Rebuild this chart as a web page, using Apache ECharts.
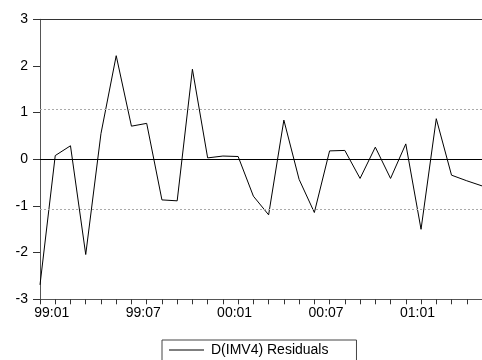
<!DOCTYPE html>
<html>
<head>
<meta charset="utf-8">
<script src="https://cdn.jsdelivr.net/npm/echarts@6/dist/echarts.min.js"></script>
<style>html,body{margin:0;padding:0;background:#fff}#c{width:482px;height:360px}</style>
</head>
<body>
<div id="c"></div>
<script>
const categories = ["98:12","99:01","99:02","99:03","99:04","99:05","99:06","99:07","99:08","99:09","99:10","99:11","99:12",
  "00:01","00:02","00:03","00:04","00:05","00:06","00:07","00:08","00:09","00:10","00:11","00:12",
  "01:01","01:02","01:03","01:04","01:05"];
const residuals = [-2.69,0.08,0.29,-2.04,0.55,2.22,0.71,0.77,-0.87,-0.89,1.93,0.03,0.07,
  0.06,-0.79,-1.19,0.84,-0.43,-1.14,0.18,0.19,-0.41,0.26,-0.41,0.33,
  -1.50,0.87,-0.34,-0.46,-0.57];
const yTicks = [-3,-2,-1,0,1,2,3];
const seBand = 1.07;
const seriesName = "D(IMV4) Residuals";

const font = "'Liberation Sans', Arial, sans-serif";
const chart = echarts.init(document.getElementById('c'), null, {renderer: 'canvas'});
chart.setOption({
  animation: false,
  backgroundColor: '#fff',
  grid: {left: 40, top: 19.3, bottom: 60.7, right: -10.4, containLabel: false},
  legend: {
    data: [seriesName],
    icon: 'rect',
    left: 162, top: 340,
    itemWidth: 35, itemHeight: 1, itemGap: 6,
    padding: [3, 28, 12, 7],
    borderColor: '#444', borderWidth: 1,
    itemStyle: {color: '#000'},
    textStyle: {fontFamily: font, fontSize: 14, color: '#000', padding: [0,0,0,2]},
    selectedMode: false
  },
  xAxis: [{
    type: 'category', data: categories, boundaryGap: false, position: 'bottom',
    axisLine: {show: true, onZero: false, lineStyle: {color: '#555', width: 1}},
    axisTick: {show: true, interval: 0, length: 5, lineStyle: {color: '#333'}},
    axisLabel: {
      interval: function (i) { return (i - 1) % 6 === 0; },
      fontFamily: font, fontSize: 14, color: '#000', margin: 7, padding: [0, 7, 0, 0]
    },
    splitLine: {show: false}
  }, {
    type: 'category', data: categories, boundaryGap: false, position: 'top',
    axisLine: {show: true, onZero: false, lineStyle: {color: '#333', width: 1}},
    axisTick: {show: false}, axisLabel: {show: false}, splitLine: {show: false}
  }],
  yAxis: {
    type: 'value', min: yTicks[0], max: yTicks[yTicks.length - 1], interval: 1,
    axisLine: {show: true, onZero: false, lineStyle: {color: '#555', width: 1}},
    axisTick: {show: true, length: 7, lineStyle: {color: '#333'}},
    axisLabel: {fontFamily: font, fontSize: 14, color: '#000', margin: 12},
    splitLine: {show: false}
  },
  series: [{
    name: seriesName, type: 'line', data: residuals, symbol: 'none',
    lineStyle: {color: '#000', width: 1}, itemStyle: {color: '#000'},
    markLine: {
      silent: true, symbol: 'none', label: {show: false},
      data: [
        {yAxis: 0, lineStyle: {color: '#000', width: 1, type: 'solid'}},
        {yAxis: seBand, lineStyle: {color: '#aaa', width: 1, type: [2, 2]}},
        {yAxis: -seBand, lineStyle: {color: '#aaa', width: 1, type: [2, 2]}}
      ]
    }
  }]
});
</script>
</body>
</html>
